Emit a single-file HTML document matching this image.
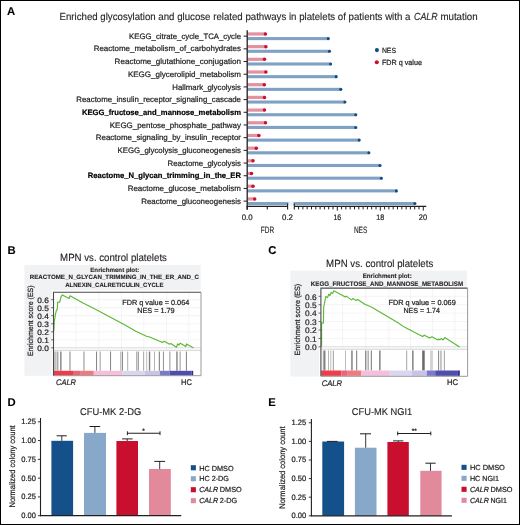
<!DOCTYPE html>
<html><head><meta charset="utf-8"><title>Figure</title>
<style>
html,body{margin:0;padding:0;background:#fff;}
body{width:520px;height:525px;overflow:hidden;font-family:"Liberation Sans", sans-serif;}
svg{display:block;font-family:"Liberation Sans", sans-serif;will-change:transform;}
text{text-rendering:geometricPrecision;stroke:#231f20;stroke-width:0.22px;}
text[font-weight=bold]{stroke-width:0.1px;}
</style></head>
<body>
<svg width="520" height="525" viewBox="0 0 520 525" fill="#231f20">
<rect x="0.00" y="0.00" width="520.00" height="525.00" fill="#fff"/>
<text x="6.90" y="15.30" font-size="11.3" text-anchor="start" font-weight="bold" fill="#000">A</text>
<text x="7.40" y="253.60" font-size="11.3" text-anchor="start" font-weight="bold" fill="#000">B</text>
<text x="268.20" y="253.60" font-size="11.3" text-anchor="start" font-weight="bold" fill="#000">C</text>
<text x="7.40" y="406.10" font-size="11.3" text-anchor="start" font-weight="bold" fill="#000">D</text>
<text x="268.20" y="406.10" font-size="11.3" text-anchor="start" font-weight="bold" fill="#000">E</text>
<text x="59.50" y="19.90" font-size="10.3" text-anchor="start" textLength="350.90" lengthAdjust="spacingAndGlyphs" style="stroke-width:0.13px">Enriched glycosylation and glucose related pathways in platelets of patients with a</text>
<text x="414.00" y="19.90" font-size="10.3" text-anchor="start" font-style="italic" textLength="23.60" lengthAdjust="spacingAndGlyphs" style="stroke-width:0.13px">CALR</text>
<text x="440.40" y="19.90" font-size="10.3" text-anchor="start" textLength="37.30" lengthAdjust="spacingAndGlyphs" style="stroke-width:0.13px">mutation</text>
<text x="241.00" y="38.80" font-size="7.9" text-anchor="end" textLength="111.90" lengthAdjust="spacingAndGlyphs">KEGG_citrate_cycle_TCA_cycle</text>
<line x1="243.60" y1="36.15" x2="247.20" y2="36.15" stroke="#231f20" stroke-width="1.0"/>
<rect x="247.20" y="32.35" width="18.20" height="3.20" fill="#e4919f"/>
<circle cx="265.40" cy="33.95" r="1.75" fill="#c8102e"/>
<rect x="247.20" y="37.05" width="81.10" height="3.10" fill="#7fa2c4"/>
<circle cx="328.30" cy="38.60" r="1.55" fill="#134a84"/>
<text x="241.00" y="51.49" font-size="7.9" text-anchor="end" textLength="147.30" lengthAdjust="spacingAndGlyphs">Reactome_metabolism_of_carbohydrates</text>
<line x1="243.60" y1="48.84" x2="247.20" y2="48.84" stroke="#231f20" stroke-width="1.0"/>
<rect x="247.20" y="45.04" width="18.70" height="3.20" fill="#e4919f"/>
<circle cx="265.90" cy="46.64" r="1.75" fill="#c8102e"/>
<rect x="247.20" y="49.74" width="82.30" height="3.10" fill="#7fa2c4"/>
<circle cx="329.50" cy="51.29" r="1.55" fill="#134a84"/>
<text x="241.00" y="64.18" font-size="7.9" text-anchor="end" textLength="126.40" lengthAdjust="spacingAndGlyphs">Reactome_glutathione_conjugation</text>
<line x1="243.60" y1="61.53" x2="247.20" y2="61.53" stroke="#231f20" stroke-width="1.0"/>
<rect x="247.20" y="57.73" width="17.30" height="3.20" fill="#e4919f"/>
<circle cx="264.50" cy="59.33" r="1.75" fill="#c8102e"/>
<rect x="247.20" y="62.43" width="83.40" height="3.10" fill="#7fa2c4"/>
<circle cx="330.60" cy="63.98" r="1.55" fill="#134a84"/>
<text x="241.00" y="76.87" font-size="7.9" text-anchor="end" textLength="113.10" lengthAdjust="spacingAndGlyphs">KEGG_glycerolipid_metabolism</text>
<line x1="243.60" y1="74.22" x2="247.20" y2="74.22" stroke="#231f20" stroke-width="1.0"/>
<rect x="247.20" y="70.42" width="18.70" height="3.20" fill="#e4919f"/>
<circle cx="265.90" cy="72.02" r="1.75" fill="#c8102e"/>
<rect x="247.20" y="75.12" width="89.00" height="3.10" fill="#7fa2c4"/>
<circle cx="336.20" cy="76.67" r="1.55" fill="#134a84"/>
<text x="241.00" y="89.56" font-size="7.9" text-anchor="end" textLength="68.70" lengthAdjust="spacingAndGlyphs">Hallmark_glycolysis</text>
<line x1="243.60" y1="86.91" x2="247.20" y2="86.91" stroke="#231f20" stroke-width="1.0"/>
<rect x="247.20" y="83.11" width="17.10" height="3.20" fill="#e4919f"/>
<circle cx="264.30" cy="84.71" r="1.75" fill="#c8102e"/>
<rect x="247.20" y="87.81" width="93.60" height="3.10" fill="#7fa2c4"/>
<circle cx="340.80" cy="89.36" r="1.55" fill="#134a84"/>
<text x="241.00" y="102.25" font-size="7.9" text-anchor="end" textLength="164.70" lengthAdjust="spacingAndGlyphs">Reactome_insulin_receptor_signaling_cascade</text>
<line x1="243.60" y1="99.60" x2="247.20" y2="99.60" stroke="#231f20" stroke-width="1.0"/>
<rect x="247.20" y="95.80" width="17.30" height="3.20" fill="#e4919f"/>
<circle cx="264.50" cy="97.40" r="1.75" fill="#c8102e"/>
<rect x="247.20" y="100.50" width="97.70" height="3.10" fill="#7fa2c4"/>
<circle cx="344.90" cy="102.05" r="1.55" fill="#134a84"/>
<text x="241.00" y="114.94" font-size="7.9" text-anchor="end" font-weight="bold" fill="#000" textLength="159.00" lengthAdjust="spacingAndGlyphs" style="stroke:#000;stroke-width:0.2px">KEGG_fructose_and_mannose_metabolism</text>
<line x1="243.60" y1="112.29" x2="247.20" y2="112.29" stroke="#231f20" stroke-width="1.0"/>
<rect x="247.20" y="108.49" width="17.30" height="3.20" fill="#e4919f"/>
<circle cx="264.50" cy="110.09" r="1.75" fill="#c8102e"/>
<rect x="247.20" y="113.19" width="108.60" height="3.10" fill="#7fa2c4"/>
<circle cx="355.80" cy="114.74" r="1.55" fill="#134a84"/>
<text x="241.00" y="127.63" font-size="7.9" text-anchor="end" textLength="131.20" lengthAdjust="spacingAndGlyphs">KEGG_pentose_phosphate_pathway</text>
<line x1="243.60" y1="124.98" x2="247.20" y2="124.98" stroke="#231f20" stroke-width="1.0"/>
<rect x="247.20" y="121.18" width="18.30" height="3.20" fill="#e4919f"/>
<circle cx="265.50" cy="122.78" r="1.75" fill="#c8102e"/>
<rect x="247.20" y="125.88" width="108.60" height="3.10" fill="#7fa2c4"/>
<circle cx="355.80" cy="127.43" r="1.55" fill="#134a84"/>
<text x="241.00" y="140.32" font-size="7.9" text-anchor="end" textLength="145.20" lengthAdjust="spacingAndGlyphs">Reactome_signaling_by_insulin_receptor</text>
<line x1="243.60" y1="137.67" x2="247.20" y2="137.67" stroke="#231f20" stroke-width="1.0"/>
<rect x="247.20" y="133.87" width="11.70" height="3.20" fill="#e4919f"/>
<circle cx="258.90" cy="135.47" r="1.75" fill="#c8102e"/>
<rect x="247.20" y="138.57" width="112.00" height="3.10" fill="#7fa2c4"/>
<circle cx="359.20" cy="140.12" r="1.55" fill="#134a84"/>
<text x="241.00" y="153.01" font-size="7.9" text-anchor="end" textLength="123.50" lengthAdjust="spacingAndGlyphs">KEGG_glycolysis_gluconeogenesis</text>
<line x1="243.60" y1="150.36" x2="247.20" y2="150.36" stroke="#231f20" stroke-width="1.0"/>
<rect x="247.20" y="146.56" width="9.10" height="3.20" fill="#e4919f"/>
<circle cx="256.30" cy="148.16" r="1.75" fill="#c8102e"/>
<rect x="247.20" y="151.26" width="121.70" height="3.10" fill="#7fa2c4"/>
<circle cx="368.90" cy="152.81" r="1.55" fill="#134a84"/>
<text x="241.00" y="165.70" font-size="7.9" text-anchor="end" textLength="73.50" lengthAdjust="spacingAndGlyphs">Reactome_glycolysis</text>
<line x1="243.60" y1="163.05" x2="247.20" y2="163.05" stroke="#231f20" stroke-width="1.0"/>
<rect x="247.20" y="159.25" width="5.80" height="3.20" fill="#e4919f"/>
<circle cx="253.00" cy="160.85" r="1.75" fill="#c8102e"/>
<rect x="247.20" y="163.95" width="132.80" height="3.10" fill="#7fa2c4"/>
<circle cx="380.00" cy="165.50" r="1.55" fill="#134a84"/>
<text x="241.00" y="178.39" font-size="7.9" text-anchor="end" font-weight="bold" fill="#000" textLength="153.30" lengthAdjust="spacingAndGlyphs" style="stroke:#000;stroke-width:0.2px">Reactome_N_glycan_trimming_in_the_ER</text>
<line x1="243.60" y1="175.74" x2="247.20" y2="175.74" stroke="#231f20" stroke-width="1.0"/>
<rect x="247.20" y="171.94" width="4.30" height="3.20" fill="#e4919f"/>
<circle cx="251.50" cy="173.54" r="1.75" fill="#c8102e"/>
<rect x="247.20" y="176.64" width="134.20" height="3.10" fill="#7fa2c4"/>
<circle cx="381.40" cy="178.19" r="1.55" fill="#134a84"/>
<text x="241.00" y="191.08" font-size="7.9" text-anchor="end" textLength="113.30" lengthAdjust="spacingAndGlyphs">Reactome_glucose_metabolism</text>
<line x1="243.60" y1="188.43" x2="247.20" y2="188.43" stroke="#231f20" stroke-width="1.0"/>
<rect x="247.20" y="184.63" width="5.80" height="3.20" fill="#e4919f"/>
<circle cx="253.00" cy="186.23" r="1.75" fill="#c8102e"/>
<rect x="247.20" y="189.33" width="149.20" height="3.10" fill="#7fa2c4"/>
<circle cx="396.40" cy="190.88" r="1.55" fill="#134a84"/>
<text x="241.00" y="203.77" font-size="7.9" text-anchor="end" textLength="99.80" lengthAdjust="spacingAndGlyphs">Reactome_gluconeogenesis</text>
<line x1="243.60" y1="201.12" x2="247.20" y2="201.12" stroke="#231f20" stroke-width="1.0"/>
<rect x="247.20" y="197.32" width="7.50" height="3.20" fill="#e4919f"/>
<circle cx="254.70" cy="198.92" r="1.75" fill="#c8102e"/>
<rect x="247.20" y="202.02" width="167.70" height="3.10" fill="#7fa2c4"/>
<circle cx="414.90" cy="203.57" r="1.55" fill="#134a84"/>
<line x1="247.20" y1="30.20" x2="247.20" y2="209.80" stroke="#231f20" stroke-width="1.3"/>
<line x1="246.60" y1="206.40" x2="287.60" y2="206.40" stroke="#231f20" stroke-width="1.2"/>
<line x1="247.20" y1="206.40" x2="247.20" y2="209.60" stroke="#231f20" stroke-width="1.1"/>
<line x1="267.30" y1="206.40" x2="267.30" y2="209.60" stroke="#231f20" stroke-width="1.1"/>
<line x1="287.60" y1="203.40" x2="287.60" y2="209.60" stroke="#231f20" stroke-width="1.1"/>
<rect x="288.40" y="201.60" width="5.20" height="3.40" fill="#e9eff5"/>
<line x1="294.30" y1="206.40" x2="426.30" y2="206.40" stroke="#231f20" stroke-width="1.2"/>
<line x1="294.30" y1="203.40" x2="294.30" y2="209.60" stroke="#231f20" stroke-width="1.1"/>
<line x1="298.60" y1="206.40" x2="298.60" y2="209.40" stroke="#231f20" stroke-width="1.0"/>
<line x1="302.90" y1="206.40" x2="302.90" y2="209.40" stroke="#231f20" stroke-width="1.0"/>
<line x1="307.20" y1="206.40" x2="307.20" y2="209.40" stroke="#231f20" stroke-width="1.0"/>
<line x1="311.50" y1="206.40" x2="311.50" y2="209.40" stroke="#231f20" stroke-width="1.0"/>
<line x1="315.80" y1="206.40" x2="315.80" y2="209.40" stroke="#231f20" stroke-width="1.0"/>
<line x1="320.10" y1="206.40" x2="320.10" y2="209.40" stroke="#231f20" stroke-width="1.0"/>
<line x1="324.40" y1="206.40" x2="324.40" y2="209.40" stroke="#231f20" stroke-width="1.0"/>
<line x1="328.70" y1="206.40" x2="328.70" y2="209.40" stroke="#231f20" stroke-width="1.0"/>
<line x1="333.00" y1="206.40" x2="333.00" y2="209.40" stroke="#231f20" stroke-width="1.0"/>
<line x1="337.30" y1="206.40" x2="337.30" y2="210.60" stroke="#231f20" stroke-width="1.0"/>
<line x1="341.60" y1="206.40" x2="341.60" y2="209.40" stroke="#231f20" stroke-width="1.0"/>
<line x1="345.90" y1="206.40" x2="345.90" y2="209.40" stroke="#231f20" stroke-width="1.0"/>
<line x1="350.20" y1="206.40" x2="350.20" y2="209.40" stroke="#231f20" stroke-width="1.0"/>
<line x1="354.50" y1="206.40" x2="354.50" y2="209.40" stroke="#231f20" stroke-width="1.0"/>
<line x1="358.80" y1="206.40" x2="358.80" y2="209.40" stroke="#231f20" stroke-width="1.0"/>
<line x1="363.10" y1="206.40" x2="363.10" y2="209.40" stroke="#231f20" stroke-width="1.0"/>
<line x1="367.40" y1="206.40" x2="367.40" y2="209.40" stroke="#231f20" stroke-width="1.0"/>
<line x1="371.70" y1="206.40" x2="371.70" y2="209.40" stroke="#231f20" stroke-width="1.0"/>
<line x1="376.00" y1="206.40" x2="376.00" y2="209.40" stroke="#231f20" stroke-width="1.0"/>
<line x1="380.30" y1="206.40" x2="380.30" y2="210.60" stroke="#231f20" stroke-width="1.0"/>
<line x1="384.60" y1="206.40" x2="384.60" y2="209.40" stroke="#231f20" stroke-width="1.0"/>
<line x1="388.90" y1="206.40" x2="388.90" y2="209.40" stroke="#231f20" stroke-width="1.0"/>
<line x1="393.20" y1="206.40" x2="393.20" y2="209.40" stroke="#231f20" stroke-width="1.0"/>
<line x1="397.50" y1="206.40" x2="397.50" y2="209.40" stroke="#231f20" stroke-width="1.0"/>
<line x1="401.80" y1="206.40" x2="401.80" y2="209.40" stroke="#231f20" stroke-width="1.0"/>
<line x1="406.10" y1="206.40" x2="406.10" y2="209.40" stroke="#231f20" stroke-width="1.0"/>
<line x1="410.40" y1="206.40" x2="410.40" y2="209.40" stroke="#231f20" stroke-width="1.0"/>
<line x1="414.70" y1="206.40" x2="414.70" y2="209.40" stroke="#231f20" stroke-width="1.0"/>
<line x1="419.00" y1="206.40" x2="419.00" y2="209.40" stroke="#231f20" stroke-width="1.0"/>
<line x1="423.30" y1="206.40" x2="423.30" y2="210.60" stroke="#231f20" stroke-width="1.0"/>
<text x="247.20" y="220.10" font-size="8.0" text-anchor="middle" textLength="10.90" lengthAdjust="spacingAndGlyphs">0.0</text>
<text x="287.50" y="220.10" font-size="8.0" text-anchor="middle" textLength="10.90" lengthAdjust="spacingAndGlyphs">0.2</text>
<text x="337.30" y="220.10" font-size="8.0" text-anchor="middle" textLength="7.80" lengthAdjust="spacingAndGlyphs">16</text>
<text x="380.20" y="220.10" font-size="8.0" text-anchor="middle" textLength="7.80" lengthAdjust="spacingAndGlyphs">18</text>
<text x="422.90" y="220.10" font-size="8.0" text-anchor="middle" textLength="8.30" lengthAdjust="spacingAndGlyphs">20</text>
<text x="267.50" y="232.80" font-size="9.2" text-anchor="middle" textLength="13.30" lengthAdjust="spacingAndGlyphs" style="stroke-width:0.13px">FDR</text>
<text x="360.60" y="232.90" font-size="9.2" text-anchor="middle" textLength="13.40" lengthAdjust="spacingAndGlyphs" style="stroke-width:0.13px">NES</text>
<circle cx="376.90" cy="50.10" r="2.05" fill="#134a84"/>
<text x="381.90" y="53.00" font-size="7.5" text-anchor="start" textLength="14.10" lengthAdjust="spacingAndGlyphs">NES</text>
<circle cx="376.80" cy="62.20" r="2.05" fill="#c8102e"/>
<text x="381.90" y="65.00" font-size="7.5" text-anchor="start" textLength="40.00" lengthAdjust="spacingAndGlyphs">FDR q value</text>
<rect x="24.40" y="264.90" width="176.30" height="110.90" fill="#f1f2f4"/>
<rect x="51.70" y="290.40" width="150.90" height="85.30" fill="#ffffff"/>
<line x1="75.80" y1="292.30" x2="75.80" y2="350.30" stroke="#ececec" stroke-width="0.6"/>
<line x1="98.90" y1="292.30" x2="98.90" y2="350.30" stroke="#ececec" stroke-width="0.6"/>
<line x1="121.50" y1="292.30" x2="121.50" y2="350.30" stroke="#ececec" stroke-width="0.6"/>
<line x1="143.80" y1="292.30" x2="143.80" y2="350.30" stroke="#ececec" stroke-width="0.6"/>
<line x1="166.50" y1="292.30" x2="166.50" y2="350.30" stroke="#ececec" stroke-width="0.6"/>
<line x1="188.80" y1="292.30" x2="188.80" y2="350.30" stroke="#ececec" stroke-width="0.6"/>
<line x1="53.50" y1="299.70" x2="201.00" y2="299.70" stroke="#ececec" stroke-width="0.6"/>
<line x1="53.50" y1="307.70" x2="201.00" y2="307.70" stroke="#ececec" stroke-width="0.6"/>
<line x1="53.50" y1="315.70" x2="201.00" y2="315.70" stroke="#ececec" stroke-width="0.6"/>
<line x1="53.50" y1="323.80" x2="201.00" y2="323.80" stroke="#ececec" stroke-width="0.6"/>
<line x1="53.50" y1="331.80" x2="201.00" y2="331.80" stroke="#ececec" stroke-width="0.6"/>
<line x1="53.50" y1="339.80" x2="201.00" y2="339.80" stroke="#ececec" stroke-width="0.6"/>
<line x1="53.50" y1="347.80" x2="201.00" y2="347.80" stroke="#d6d6d6" stroke-width="0.9"/>
<line x1="53.50" y1="350.30" x2="201.00" y2="350.30" stroke="#c8c8c8" stroke-width="0.8"/>
<rect x="54.35" y="351.50" width="1.40" height="19.30" fill="#adadad"/>
<rect x="55.90" y="351.50" width="0.80" height="19.30" fill="#c4c4c4"/>
<rect x="57.00" y="351.50" width="1.20" height="19.30" fill="#adadad"/>
<rect x="58.30" y="351.50" width="0.60" height="19.30" fill="#c4c4c4"/>
<rect x="60.15" y="351.50" width="1.40" height="19.30" fill="#838383"/>
<rect x="69.20" y="351.50" width="1.50" height="19.30" fill="#adadad"/>
<rect x="83.25" y="351.50" width="1.40" height="19.30" fill="#adadad"/>
<rect x="96.05" y="351.50" width="1.00" height="19.30" fill="#838383"/>
<rect x="99.60" y="351.50" width="1.20" height="19.30" fill="#adadad"/>
<rect x="110.05" y="351.50" width="1.00" height="19.30" fill="#838383"/>
<rect x="120.30" y="351.50" width="1.00" height="19.30" fill="#adadad"/>
<rect x="121.90" y="351.50" width="1.00" height="19.30" fill="#838383"/>
<rect x="127.20" y="351.50" width="1.00" height="19.30" fill="#adadad"/>
<rect x="136.00" y="351.50" width="0.90" height="19.30" fill="#adadad"/>
<rect x="137.65" y="351.50" width="1.10" height="19.30" fill="#838383"/>
<rect x="143.05" y="351.50" width="1.10" height="19.30" fill="#adadad"/>
<rect x="146.10" y="351.50" width="1.10" height="19.30" fill="#c4c4c4"/>
<rect x="148.85" y="351.50" width="1.40" height="19.30" fill="#838383"/>
<rect x="154.10" y="351.50" width="0.90" height="19.30" fill="#adadad"/>
<rect x="158.80" y="351.50" width="1.10" height="19.30" fill="#838383"/>
<rect x="162.95" y="351.50" width="0.90" height="19.30" fill="#838383"/>
<rect x="169.20" y="351.50" width="1.30" height="19.30" fill="#adadad"/>
<rect x="176.25" y="351.50" width="1.40" height="19.30" fill="#838383"/>
<rect x="179.50" y="351.50" width="1.30" height="19.30" fill="#adadad"/>
<rect x="185.90" y="351.50" width="1.00" height="19.30" fill="#838383"/>
<rect x="53.60" y="370.80" width="20.20" height="4.80" fill="#ed3c4a"/>
<rect x="73.80" y="370.80" width="7.00" height="4.80" fill="#ec6478"/>
<rect x="80.80" y="370.80" width="13.00" height="4.80" fill="#ef7b80"/>
<rect x="93.80" y="370.80" width="28.90" height="4.80" fill="#f5bedb"/>
<rect x="122.70" y="370.80" width="21.80" height="4.80" fill="#dad6ef"/>
<rect x="144.50" y="370.80" width="15.40" height="4.80" fill="#c9c3e7"/>
<rect x="159.90" y="370.80" width="9.70" height="4.80" fill="#7c79c8"/>
<rect x="169.60" y="370.80" width="21.90" height="4.80" fill="#4f4dad"/>
<rect x="191.50" y="370.80" width="1.70" height="4.80" fill="#2d2b94"/>
<polyline points="53.80,331.00 54.30,321.50 55.40,314.60 56.50,310.00 57.20,309.70 57.70,302.00 59.50,302.30 60.50,299.50 61.00,296.90 62.30,294.90 69.20,298.50 70.00,295.80 83.00,303.00 95.40,309.20 125.00,325.00 135.80,331.20 146.50,336.20 149.60,337.00 159.60,341.20 162.70,342.40 164.20,341.20 169.60,344.20 170.80,343.50 176.50,347.30 177.60,343.90 178.80,345.00 180.40,343.20 185.80,346.50 186.50,343.90 193.50,348.10" fill="none" stroke="#5cb836" stroke-width="1.15" stroke-linejoin="round"/>
<path d="M53.50,375.70 V292.30 H201.00" fill="none" stroke="#4a4a4a" stroke-width="1.1"/>
<path d="M201.00,292.30 V375.70 H53.50" fill="none" stroke="#9a9a9a" stroke-width="1.0"/>
<line x1="51.20" y1="299.70" x2="53.50" y2="299.70" stroke="#444" stroke-width="0.8"/>
<text x="48.80" y="302.82" font-size="7.8" text-anchor="end" textLength="11.60" lengthAdjust="spacingAndGlyphs">0.6</text>
<line x1="51.20" y1="307.70" x2="53.50" y2="307.70" stroke="#444" stroke-width="0.8"/>
<text x="48.80" y="310.82" font-size="7.8" text-anchor="end" textLength="11.60" lengthAdjust="spacingAndGlyphs">0.5</text>
<line x1="51.20" y1="315.70" x2="53.50" y2="315.70" stroke="#444" stroke-width="0.8"/>
<text x="48.80" y="318.82" font-size="7.8" text-anchor="end" textLength="11.60" lengthAdjust="spacingAndGlyphs">0.4</text>
<line x1="51.20" y1="323.80" x2="53.50" y2="323.80" stroke="#444" stroke-width="0.8"/>
<text x="48.80" y="326.92" font-size="7.8" text-anchor="end" textLength="11.60" lengthAdjust="spacingAndGlyphs">0.3</text>
<line x1="51.20" y1="331.80" x2="53.50" y2="331.80" stroke="#444" stroke-width="0.8"/>
<text x="48.80" y="334.92" font-size="7.8" text-anchor="end" textLength="11.60" lengthAdjust="spacingAndGlyphs">0.2</text>
<line x1="51.20" y1="339.80" x2="53.50" y2="339.80" stroke="#444" stroke-width="0.8"/>
<text x="48.80" y="342.92" font-size="7.8" text-anchor="end" textLength="11.60" lengthAdjust="spacingAndGlyphs">0.1</text>
<line x1="51.20" y1="347.80" x2="53.50" y2="347.80" stroke="#444" stroke-width="0.8"/>
<text x="48.80" y="350.92" font-size="7.8" text-anchor="end" textLength="11.60" lengthAdjust="spacingAndGlyphs">0.0</text>
<text transform="translate(32.60,320.70) rotate(-90)" x="0" y="0" font-size="7.6" text-anchor="middle" textLength="70.60" lengthAdjust="spacingAndGlyphs" fill="#231f20">Enrichment score (ES)</text>
<text x="113.50" y="261.20" font-size="10.4" text-anchor="middle" textLength="106.80" lengthAdjust="spacingAndGlyphs" style="stroke-width:0.13px">MPN vs. control platelets</text>
<text x="114.75" y="271.60" font-size="6.2" text-anchor="middle" font-weight="bold" textLength="49.00" lengthAdjust="spacingAndGlyphs">Enrichment plot:</text>
<text x="114.30" y="279.30" font-size="6.2" text-anchor="middle" font-weight="bold" textLength="169.20" lengthAdjust="spacingAndGlyphs">REACTOME_N_GLYCAN_TRIMMING_IN_THE_ER_AND_C</text>
<text x="114.40" y="286.60" font-size="6.2" text-anchor="middle" font-weight="bold" textLength="98.40" lengthAdjust="spacingAndGlyphs">ALNEXIN_CALRETICULIN_CYCLE</text>
<text x="155.75" y="304.60" font-size="7.3" text-anchor="middle" textLength="67.00" lengthAdjust="spacingAndGlyphs">FDR q value = 0.064</text>
<text x="155.90" y="313.00" font-size="7.3" text-anchor="middle" textLength="37.50" lengthAdjust="spacingAndGlyphs">NES = 1.79</text>
<text x="56.00" y="384.90" font-size="8.1" text-anchor="start" font-style="italic" textLength="20.00" lengthAdjust="spacingAndGlyphs">CALR</text>
<text x="181.00" y="385.20" font-size="8.1" text-anchor="start" textLength="10.80" lengthAdjust="spacingAndGlyphs">HC</text>
<rect x="290.40" y="270.70" width="176.60" height="105.80" fill="#f1f2f4"/>
<rect x="319.10" y="286.20" width="150.10" height="90.10" fill="#ffffff"/>
<line x1="342.60" y1="288.10" x2="342.60" y2="349.20" stroke="#ececec" stroke-width="0.6"/>
<line x1="365.70" y1="288.10" x2="365.70" y2="349.20" stroke="#ececec" stroke-width="0.6"/>
<line x1="388.80" y1="288.10" x2="388.80" y2="349.20" stroke="#ececec" stroke-width="0.6"/>
<line x1="410.50" y1="288.10" x2="410.50" y2="349.20" stroke="#ececec" stroke-width="0.6"/>
<line x1="432.70" y1="288.10" x2="432.70" y2="349.20" stroke="#ececec" stroke-width="0.6"/>
<line x1="454.90" y1="288.10" x2="454.90" y2="349.20" stroke="#ececec" stroke-width="0.6"/>
<line x1="320.90" y1="296.30" x2="467.60" y2="296.30" stroke="#ececec" stroke-width="0.6"/>
<line x1="320.90" y1="304.70" x2="467.60" y2="304.70" stroke="#ececec" stroke-width="0.6"/>
<line x1="320.90" y1="313.10" x2="467.60" y2="313.10" stroke="#ececec" stroke-width="0.6"/>
<line x1="320.90" y1="321.60" x2="467.60" y2="321.60" stroke="#ececec" stroke-width="0.6"/>
<line x1="320.90" y1="330.00" x2="467.60" y2="330.00" stroke="#ececec" stroke-width="0.6"/>
<line x1="320.90" y1="338.40" x2="467.60" y2="338.40" stroke="#ececec" stroke-width="0.6"/>
<line x1="320.90" y1="346.80" x2="467.60" y2="346.80" stroke="#d6d6d6" stroke-width="0.9"/>
<line x1="320.90" y1="349.20" x2="467.60" y2="349.20" stroke="#c8c8c8" stroke-width="0.8"/>
<rect x="322.80" y="350.50" width="1.00" height="20.00" fill="#adadad"/>
<rect x="323.70" y="350.50" width="1.80" height="20.00" fill="#838383"/>
<rect x="328.00" y="350.50" width="0.90" height="20.00" fill="#adadad"/>
<rect x="330.20" y="350.50" width="1.10" height="20.00" fill="#c4c4c4"/>
<rect x="332.80" y="350.50" width="1.20" height="20.00" fill="#adadad"/>
<rect x="345.15" y="350.50" width="0.80" height="20.00" fill="#adadad"/>
<rect x="351.20" y="350.50" width="1.50" height="20.00" fill="#838383"/>
<rect x="356.10" y="350.50" width="1.10" height="20.00" fill="#838383"/>
<rect x="365.10" y="350.50" width="1.30" height="20.00" fill="#838383"/>
<rect x="367.50" y="350.50" width="1.40" height="20.00" fill="#adadad"/>
<rect x="370.80" y="350.50" width="1.10" height="20.00" fill="#838383"/>
<rect x="379.10" y="350.50" width="1.50" height="20.00" fill="#838383"/>
<rect x="406.10" y="350.50" width="1.10" height="20.00" fill="#adadad"/>
<rect x="412.10" y="350.50" width="1.50" height="20.00" fill="#838383"/>
<rect x="422.20" y="350.50" width="2.50" height="20.00" fill="#6a6a6a"/>
<rect x="430.30" y="350.50" width="1.20" height="20.00" fill="#c4c4c4"/>
<rect x="431.50" y="350.50" width="1.20" height="20.00" fill="#c4c4c4"/>
<rect x="438.10" y="350.50" width="1.00" height="20.00" fill="#838383"/>
<rect x="440.00" y="350.50" width="1.90" height="20.00" fill="#c4c4c4"/>
<rect x="443.80" y="350.50" width="1.20" height="20.00" fill="#adadad"/>
<rect x="321.20" y="370.50" width="20.10" height="5.40" fill="#ed3c4a"/>
<rect x="341.30" y="370.50" width="6.50" height="5.40" fill="#ec6478"/>
<rect x="347.80" y="370.50" width="13.60" height="5.40" fill="#ef7b80"/>
<rect x="361.40" y="370.50" width="28.40" height="5.40" fill="#f5bedb"/>
<rect x="389.80" y="370.50" width="22.00" height="5.40" fill="#dad6ef"/>
<rect x="411.80" y="370.50" width="15.00" height="5.40" fill="#c9c3e7"/>
<rect x="426.80" y="370.50" width="8.40" height="5.40" fill="#7c79c8"/>
<rect x="435.20" y="370.50" width="22.10" height="5.40" fill="#4f4dad"/>
<rect x="457.30" y="370.50" width="2.50" height="5.40" fill="#2d2b94"/>
<polyline points="321.60,346.60 321.60,322.70 323.40,323.20 323.70,307.30 324.90,301.20 325.70,296.50 327.50,297.60 328.80,294.20 330.00,295.50 331.10,292.40 332.60,293.50 333.80,290.80 345.40,297.00 346.20,296.10 351.50,299.90 353.10,298.50 355.70,300.40 357.70,299.60 364.90,304.20 371.80,307.30 398.00,322.70 404.40,327.10 412.50,331.20 422.60,336.50 424.30,335.20 429.70,338.10 432.00,336.80 437.80,339.90 438.70,339.00 439.80,339.90 441.20,338.60 443.20,339.90 444.80,337.60 459.60,347.00" fill="none" stroke="#5cb836" stroke-width="1.15" stroke-linejoin="round"/>
<path d="M320.90,376.30 V288.10 H467.60" fill="none" stroke="#4a4a4a" stroke-width="1.1"/>
<path d="M467.60,288.10 V376.30 H320.90" fill="none" stroke="#9a9a9a" stroke-width="1.0"/>
<line x1="318.60" y1="296.30" x2="320.90" y2="296.30" stroke="#444" stroke-width="0.8"/>
<text x="316.60" y="299.50" font-size="8.0" text-anchor="end" textLength="11.60" lengthAdjust="spacingAndGlyphs">0.6</text>
<line x1="318.60" y1="304.70" x2="320.90" y2="304.70" stroke="#444" stroke-width="0.8"/>
<text x="316.60" y="307.90" font-size="8.0" text-anchor="end" textLength="11.60" lengthAdjust="spacingAndGlyphs">0.5</text>
<line x1="318.60" y1="313.10" x2="320.90" y2="313.10" stroke="#444" stroke-width="0.8"/>
<text x="316.60" y="316.30" font-size="8.0" text-anchor="end" textLength="11.60" lengthAdjust="spacingAndGlyphs">0.4</text>
<line x1="318.60" y1="321.60" x2="320.90" y2="321.60" stroke="#444" stroke-width="0.8"/>
<text x="316.60" y="324.80" font-size="8.0" text-anchor="end" textLength="11.60" lengthAdjust="spacingAndGlyphs">0.3</text>
<line x1="318.60" y1="330.00" x2="320.90" y2="330.00" stroke="#444" stroke-width="0.8"/>
<text x="316.60" y="333.20" font-size="8.0" text-anchor="end" textLength="11.60" lengthAdjust="spacingAndGlyphs">0.2</text>
<line x1="318.60" y1="338.40" x2="320.90" y2="338.40" stroke="#444" stroke-width="0.8"/>
<text x="316.60" y="341.60" font-size="8.0" text-anchor="end" textLength="11.60" lengthAdjust="spacingAndGlyphs">0.1</text>
<line x1="318.60" y1="346.80" x2="320.90" y2="346.80" stroke="#444" stroke-width="0.8"/>
<text x="316.60" y="350.00" font-size="8.0" text-anchor="end" textLength="11.60" lengthAdjust="spacingAndGlyphs">0.0</text>
<text transform="translate(300.30,319.60) rotate(-90)" x="0" y="0" font-size="7.6" text-anchor="middle" textLength="71.60" lengthAdjust="spacingAndGlyphs" fill="#231f20">Enrichment score (ES)</text>
<text x="379.70" y="267.00" font-size="10.4" text-anchor="middle" textLength="107.20" lengthAdjust="spacingAndGlyphs" style="stroke-width:0.13px">MPN vs. control platelets</text>
<text x="387.20" y="278.30" font-size="6.6" text-anchor="middle" font-weight="bold" textLength="49.00" lengthAdjust="spacingAndGlyphs">Enrichment plot:</text>
<text x="387.00" y="286.30" font-size="6.6" text-anchor="middle" font-weight="bold" textLength="152.30" lengthAdjust="spacingAndGlyphs">KEGG_FRUCTOSE_AND_MANNOSE_METABOLISM</text>
<text x="422.10" y="304.60" font-size="7.3" text-anchor="middle" textLength="67.20" lengthAdjust="spacingAndGlyphs">FDR q value = 0.069</text>
<text x="421.70" y="313.10" font-size="7.3" text-anchor="middle" textLength="36.60" lengthAdjust="spacingAndGlyphs">NES = 1.74</text>
<text x="321.70" y="385.50" font-size="8.1" text-anchor="start" font-style="italic" textLength="20.20" lengthAdjust="spacingAndGlyphs">CALR</text>
<text x="447.00" y="385.30" font-size="8.1" text-anchor="start" textLength="11.10" lengthAdjust="spacingAndGlyphs">HC</text>
<rect x="51.40" y="440.80" width="21.70" height="74.90" fill="#14508a"/>
<rect x="84.00" y="432.90" width="22.00" height="82.80" fill="#87a8c8"/>
<rect x="116.40" y="441.00" width="21.60" height="74.70" fill="#c8102e"/>
<rect x="149.00" y="469.00" width="21.80" height="46.70" fill="#e28a9b"/>
<line x1="61.80" y1="435.80" x2="61.80" y2="440.80" stroke="#231f20" stroke-width="0.9"/>
<line x1="56.70" y1="435.80" x2="66.80" y2="435.80" stroke="#231f20" stroke-width="1.0"/>
<line x1="94.90" y1="426.50" x2="94.90" y2="432.90" stroke="#231f20" stroke-width="0.9"/>
<line x1="89.50" y1="426.50" x2="100.20" y2="426.50" stroke="#231f20" stroke-width="1.0"/>
<line x1="127.20" y1="438.90" x2="127.20" y2="441.00" stroke="#231f20" stroke-width="0.9"/>
<line x1="122.10" y1="438.90" x2="132.60" y2="438.90" stroke="#231f20" stroke-width="1.0"/>
<line x1="159.70" y1="461.40" x2="159.70" y2="469.00" stroke="#231f20" stroke-width="0.9"/>
<line x1="154.30" y1="461.40" x2="165.10" y2="461.40" stroke="#231f20" stroke-width="1.0"/>
<line x1="40.50" y1="418.00" x2="40.50" y2="516.20" stroke="#231f20" stroke-width="1.1"/>
<line x1="40.00" y1="515.70" x2="181.20" y2="515.70" stroke="#231f20" stroke-width="1.2"/>
<line x1="37.90" y1="421.80" x2="40.50" y2="421.80" stroke="#231f20" stroke-width="0.9"/>
<text x="35.90" y="424.25" font-size="7.8" text-anchor="end" textLength="14.70" lengthAdjust="spacingAndGlyphs">1.25</text>
<line x1="37.90" y1="440.58" x2="40.50" y2="440.58" stroke="#231f20" stroke-width="0.9"/>
<text x="35.90" y="443.03" font-size="7.8" text-anchor="end" textLength="14.70" lengthAdjust="spacingAndGlyphs">1.00</text>
<line x1="37.90" y1="459.36" x2="40.50" y2="459.36" stroke="#231f20" stroke-width="0.9"/>
<text x="35.90" y="461.81" font-size="7.8" text-anchor="end" textLength="14.70" lengthAdjust="spacingAndGlyphs">0.75</text>
<line x1="37.90" y1="478.14" x2="40.50" y2="478.14" stroke="#231f20" stroke-width="0.9"/>
<text x="35.90" y="480.59" font-size="7.8" text-anchor="end" textLength="14.70" lengthAdjust="spacingAndGlyphs">0.50</text>
<line x1="37.90" y1="496.92" x2="40.50" y2="496.92" stroke="#231f20" stroke-width="0.9"/>
<text x="35.90" y="499.37" font-size="7.8" text-anchor="end" textLength="14.70" lengthAdjust="spacingAndGlyphs">0.25</text>
<line x1="37.90" y1="515.70" x2="40.50" y2="515.70" stroke="#231f20" stroke-width="0.9"/>
<text x="35.90" y="518.15" font-size="7.8" text-anchor="end" textLength="14.70" lengthAdjust="spacingAndGlyphs">0.00</text>
<line x1="127.40" y1="433.20" x2="160.00" y2="433.20" stroke="#231f20" stroke-width="1.15"/>
<line x1="127.40" y1="431.30" x2="127.40" y2="435.10" stroke="#231f20" stroke-width="1.0"/>
<line x1="160.00" y1="431.30" x2="160.00" y2="435.10" stroke="#231f20" stroke-width="1.0"/>
<text x="143.40" y="432.90" font-size="6.5" text-anchor="middle">*</text>
<text x="80.00" y="415.10" font-size="9.9" text-anchor="start" textLength="61.30" lengthAdjust="spacingAndGlyphs" style="stroke-width:0.13px">CFU-MK 2-DG</text>
<text transform="translate(14.80,466.40) rotate(-90)" x="0" y="0" font-size="8.1" text-anchor="middle" textLength="82.20" lengthAdjust="spacingAndGlyphs" fill="#231f20">Normalized colony count</text>
<rect x="190.80" y="465.20" width="5.10" height="5.10" fill="#14508a"/>
<text x="199.20" y="470.50" font-size="7.4" text-anchor="start" textLength="34.40" lengthAdjust="spacingAndGlyphs">HC DMSO</text>
<rect x="190.80" y="476.18" width="5.10" height="5.10" fill="#87a8c8"/>
<text x="199.20" y="481.48" font-size="7.4" text-anchor="start" textLength="29.80" lengthAdjust="spacingAndGlyphs">HC 2-DG</text>
<rect x="190.80" y="487.16" width="5.10" height="5.10" fill="#c8102e"/>
<text x="199.20" y="492.46" font-size="7.4" text-anchor="start" font-style="italic" textLength="19.00" lengthAdjust="spacingAndGlyphs">CALR</text>
<text x="219.80" y="492.46" font-size="7.4" text-anchor="start" textLength="21.90" lengthAdjust="spacingAndGlyphs">DMSO</text>
<rect x="190.80" y="498.14" width="5.10" height="5.10" fill="#e28a9b"/>
<text x="199.20" y="503.44" font-size="7.4" text-anchor="start" font-style="italic" textLength="19.00" lengthAdjust="spacingAndGlyphs">CALR</text>
<text x="219.80" y="503.44" font-size="7.4" text-anchor="start" textLength="17.40" lengthAdjust="spacingAndGlyphs">2-DG</text>
<rect x="322.30" y="441.50" width="21.80" height="74.30" fill="#14508a"/>
<rect x="354.90" y="447.70" width="21.60" height="68.10" fill="#87a8c8"/>
<rect x="387.40" y="442.00" width="21.40" height="73.80" fill="#c8102e"/>
<rect x="420.30" y="470.80" width="21.30" height="45.00" fill="#e28a9b"/>
<line x1="332.30" y1="441.40" x2="332.30" y2="441.50" stroke="#231f20" stroke-width="0.9"/>
<line x1="327.00" y1="441.40" x2="337.70" y2="441.40" stroke="#231f20" stroke-width="1.0"/>
<line x1="365.70" y1="433.80" x2="365.70" y2="447.70" stroke="#231f20" stroke-width="0.9"/>
<line x1="360.00" y1="433.80" x2="371.00" y2="433.80" stroke="#231f20" stroke-width="1.0"/>
<line x1="398.20" y1="440.90" x2="398.20" y2="442.00" stroke="#231f20" stroke-width="0.9"/>
<line x1="393.00" y1="440.90" x2="403.40" y2="440.90" stroke="#231f20" stroke-width="1.0"/>
<line x1="430.50" y1="463.20" x2="430.50" y2="470.80" stroke="#231f20" stroke-width="0.9"/>
<line x1="425.40" y1="463.20" x2="435.70" y2="463.20" stroke="#231f20" stroke-width="1.0"/>
<line x1="311.40" y1="418.90" x2="311.40" y2="516.30" stroke="#231f20" stroke-width="1.1"/>
<line x1="310.90" y1="515.80" x2="451.90" y2="515.80" stroke="#231f20" stroke-width="1.2"/>
<line x1="308.80" y1="422.80" x2="311.40" y2="422.80" stroke="#231f20" stroke-width="0.9"/>
<text x="306.20" y="425.25" font-size="7.8" text-anchor="end" textLength="14.70" lengthAdjust="spacingAndGlyphs">1.25</text>
<line x1="308.80" y1="441.40" x2="311.40" y2="441.40" stroke="#231f20" stroke-width="0.9"/>
<text x="306.20" y="443.85" font-size="7.8" text-anchor="end" textLength="14.70" lengthAdjust="spacingAndGlyphs">1.00</text>
<line x1="308.80" y1="460.00" x2="311.40" y2="460.00" stroke="#231f20" stroke-width="0.9"/>
<text x="306.20" y="462.45" font-size="7.8" text-anchor="end" textLength="14.70" lengthAdjust="spacingAndGlyphs">0.75</text>
<line x1="308.80" y1="478.60" x2="311.40" y2="478.60" stroke="#231f20" stroke-width="0.9"/>
<text x="306.20" y="481.05" font-size="7.8" text-anchor="end" textLength="14.70" lengthAdjust="spacingAndGlyphs">0.50</text>
<line x1="308.80" y1="497.20" x2="311.40" y2="497.20" stroke="#231f20" stroke-width="0.9"/>
<text x="306.20" y="499.65" font-size="7.8" text-anchor="end" textLength="14.70" lengthAdjust="spacingAndGlyphs">0.25</text>
<line x1="308.80" y1="515.80" x2="311.40" y2="515.80" stroke="#231f20" stroke-width="0.9"/>
<text x="306.20" y="518.25" font-size="7.8" text-anchor="end" textLength="14.70" lengthAdjust="spacingAndGlyphs">0.00</text>
<line x1="397.70" y1="433.45" x2="430.80" y2="433.45" stroke="#231f20" stroke-width="1.15"/>
<line x1="397.70" y1="431.55" x2="397.70" y2="435.35" stroke="#231f20" stroke-width="1.0"/>
<line x1="430.80" y1="431.55" x2="430.80" y2="435.35" stroke="#231f20" stroke-width="1.0"/>
<text x="414.30" y="433.30" font-size="6.5" text-anchor="middle">**</text>
<text x="351.80" y="415.20" font-size="9.9" text-anchor="start" textLength="60.50" lengthAdjust="spacingAndGlyphs" style="stroke-width:0.13px">CFU-MK NGI1</text>
<text transform="translate(284.70,467.60) rotate(-90)" x="0" y="0" font-size="8.1" text-anchor="middle" textLength="82.30" lengthAdjust="spacingAndGlyphs" fill="#231f20">Normalized colony count</text>
<rect x="461.50" y="464.80" width="5.10" height="5.10" fill="#14508a"/>
<text x="469.90" y="470.10" font-size="7.4" text-anchor="start" textLength="35.00" lengthAdjust="spacingAndGlyphs">HC DMSO</text>
<rect x="461.50" y="475.78" width="5.10" height="5.10" fill="#87a8c8"/>
<text x="469.90" y="481.08" font-size="7.4" text-anchor="start" textLength="29.20" lengthAdjust="spacingAndGlyphs">HC NGI1</text>
<rect x="461.50" y="486.76" width="5.10" height="5.10" fill="#c8102e"/>
<text x="469.90" y="492.06" font-size="7.4" text-anchor="start" font-style="italic" textLength="19.00" lengthAdjust="spacingAndGlyphs">CALR</text>
<text x="490.50" y="492.06" font-size="7.4" text-anchor="start" textLength="22.00" lengthAdjust="spacingAndGlyphs">DMSO</text>
<rect x="461.50" y="497.74" width="5.10" height="5.10" fill="#e28a9b"/>
<text x="469.90" y="503.04" font-size="7.4" text-anchor="start" font-style="italic" textLength="19.00" lengthAdjust="spacingAndGlyphs">CALR</text>
<text x="490.50" y="503.04" font-size="7.4" text-anchor="start" textLength="16.40" lengthAdjust="spacingAndGlyphs">NGI1</text>
<rect x="0.00" y="0.00" width="520.00" height="1.00" fill="#000"/>
<rect x="0.00" y="0.00" width="1.00" height="525.00" fill="#000"/>
<rect x="519.00" y="0.00" width="1.00" height="525.00" fill="#000"/>
<rect x="0.00" y="524.00" width="520.00" height="1.00" fill="#000"/>
</svg>
</body></html>
